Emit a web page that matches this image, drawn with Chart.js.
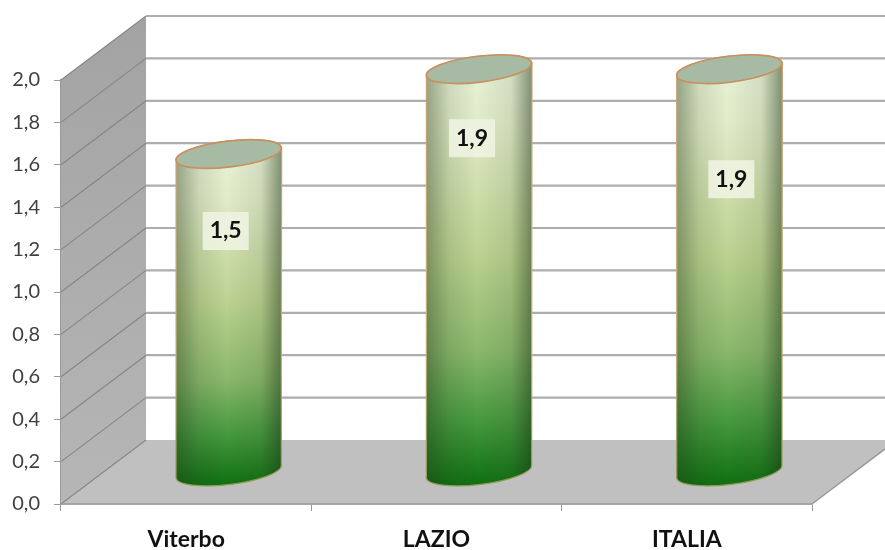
<!DOCTYPE html>
<html>
<head>
<style>
  body { margin: 0; background: #fff; }
</style>
</head>
<body>
<script src="https://cdn.jsdelivr.net/npm/chart.js@4/dist/chart.umd.min.js"></script>
<canvas id="myChart" width="885" height="550"></canvas>
<script>
    var categories = ['Viterbo', 'LAZIO', 'ITALIA'];
    var values = [1.5, 1.9, 1.9];

    // box depth, back wall sits this far up and to the right
    var depthX = 85, depthY = 64;
    var barWidth = 106;
    var radiusY = 13, tilt = -0.12;
    // where each value tag sits relative to the top of its cylinder
    var tagShift = [[-3, 77], [-7, 69], [2, 110]];

    function fmt(v) {
        return Number(v).toFixed(1).replace('.', ',');
    }

    function line(ctx, x1, y1, x2, y2) {
        ctx.beginPath();
        ctx.moveTo(x1, y1);
        ctx.lineTo(x2, y2);
        ctx.stroke();
    }

    // walls, floor and gridlines of the fake 3d box
    var boxPlugin = {
        id: 'box',
        beforeDatasetsDraw: function (chart) {
            var ctx = chart.ctx, a = chart.chartArea, y = chart.scales.y;
            ctx.save();
            var wall = ctx.createLinearGradient(0, a.top - depthY, 0, a.bottom);
            wall.addColorStop(0, '#a3a3a3');
            wall.addColorStop(1, '#b6b6b6');
            ctx.fillStyle = wall;
            ctx.beginPath();
            ctx.moveTo(a.left, a.top);
            ctx.lineTo(a.left + depthX, a.top - depthY);
            ctx.lineTo(a.left + depthX, a.bottom - depthY);
            ctx.lineTo(a.left, a.bottom);
            ctx.closePath();
            ctx.fill();

            ctx.fillStyle = '#c0c0c0';
            ctx.beginPath();
            ctx.moveTo(a.left, a.bottom);
            ctx.lineTo(a.left + depthX, a.bottom - depthY);
            ctx.lineTo(a.right + depthX, a.bottom - depthY);
            ctx.lineTo(a.right, a.bottom);
            ctx.closePath();
            ctx.fill();

            y.ticks.forEach(function (t) {
                var py = y.getPixelForValue(t.value);
                ctx.strokeStyle = '#858585';
                ctx.lineWidth = 1.1;
                line(ctx, a.left, py, a.left + depthX, py - depthY);
                if (t.value > 0) {
                    ctx.strokeStyle = '#adadad';
                    ctx.lineWidth = 2.2;
                    line(ctx, a.left + depthX, py - depthY, a.right + depthX, py - depthY);
                }
            });

            ctx.strokeStyle = '#9a9a9a';
            ctx.lineWidth = 1.5;
            line(ctx, a.left, a.bottom, a.right, a.bottom);
            line(ctx, a.right, a.bottom, a.right + depthX, a.bottom - depthY);
            ctx.restore();
        },
        afterDatasetsDraw: function (chart) {
            var ctx = chart.ctx;
            chart.getDatasetMeta(0).data.forEach(function (bar, i) {
                // cylinders stand halfway into the box
                var cx = bar.x + depthX / 2;
                var top = bar.y - depthY / 2;
                var base = bar.base - depthY / 2;
                drawCylinder(ctx, cx, top, base);
                drawTag(ctx, fmt(values[i]), cx + tagShift[i][0], top + tagShift[i][1]);
            });
        }
    };

    function drawCylinder(ctx, cx, top, base) {
        var rx = barWidth / 2;
        var sin = Math.sin(tilt) * rx;
        ctx.save();

        function body() {
            ctx.beginPath();
            ctx.ellipse(cx, base, rx, radiusY, tilt, Math.PI, 0, true);
            ctx.lineTo(cx + rx, top + sin);
            ctx.ellipse(cx, top, rx, radiusY, tilt, 0, Math.PI, true);
            ctx.closePath();
        }

        var green = ctx.createLinearGradient(0, top, 0, base + radiusY);
        green.addColorStop(0, '#e8f2d6');
        green.addColorStop(0.14, '#e0ebc8');
        green.addColorStop(0.45, '#bcd290');
        green.addColorStop(0.68, '#8ab86c');
        green.addColorStop(0.85, '#45983e');
        green.addColorStop(1, '#0f7012');
        body();
        ctx.fillStyle = green;
        ctx.fill();

        var shade = ctx.createLinearGradient(cx - rx, 0, cx + rx, 0);
        shade.addColorStop(0, 'rgba(35,55,25,0.42)');
        shade.addColorStop(0.22, 'rgba(35,55,25,0.12)');
        shade.addColorStop(0.48, 'rgba(35,55,25,0)');
        shade.addColorStop(0.8, 'rgba(35,55,25,0.1)');
        shade.addColorStop(1, 'rgba(25,45,20,0.5)');
        body();
        ctx.fillStyle = shade;
        ctx.fill();

        // outline is copper at the top and fades out towards the dark base
        var edge = ctx.createLinearGradient(0, top, 0, base + radiusY);
        edge.addColorStop(0, '#cfa070');
        edge.addColorStop(0.6, '#c8b080');
        edge.addColorStop(1, '#8a9a50');
        body();
        ctx.strokeStyle = edge;
        ctx.lineWidth = 1.2;
        ctx.stroke();

        ctx.beginPath();
        ctx.ellipse(cx, top, rx, radiusY, tilt, 0, Math.PI * 2);
        ctx.fillStyle = '#a7baa4';
        ctx.fill();
        ctx.strokeStyle = '#c8905c';
        ctx.lineWidth = 1.6;
        ctx.stroke();
        ctx.restore();
    }

    function drawTag(ctx, text, x, y) {
        ctx.save();
        ctx.fillStyle = 'rgba(238,243,225,0.9)';
        ctx.fillRect(x - 23, y - 19, 46, 38);
        ctx.fillStyle = '#111';
        ctx.font = 'bold 23px Lato';
        ctx.textAlign = 'center';
        ctx.textBaseline = 'middle';
        ctx.fillText(text, x, y);
        ctx.restore();
    }

    var ctx = document.getElementById('myChart').getContext('2d');
    var myChart = new Chart(ctx, {
        type: 'bar',
        data: {
            labels: categories,
            datasets: [{
                data: values,
                backgroundColor: 'transparent',
                barThickness: barWidth
            }]
        },
        plugins: [boxPlugin],
        options: {
            responsive: false,
            animation: false,
            layout: { padding: { top: 80, right: 73, left: 0, bottom: 0 } },
            plugins: { legend: { display: false }, tooltip: { enabled: false } },
            scales: {
                x: {
                    afterFit: function (s) { s.height = 46; },
                    border: { color: '#9a9a9a', width: 1.5 },
                    grid: { drawOnChartArea: false, color: '#9a9a9a', tickLength: 7, offset: true },
                    ticks: { color: '#111', padding: 15, font: { family: 'Lato', size: 23, weight: 'bold' } }
                },
                y: {
                    min: 0,
                    max: 2,
                    afterFit: function (s) { s.width = 61; },
                    border: { color: '#9a9a9a', width: 1.5 },
                    grid: { drawOnChartArea: false, color: '#9a9a9a', tickLength: 7 },
                    ticks: {
                        stepSize: 0.2,
                        color: '#404040',
                        padding: 14,
                        font: { family: 'Lato', size: 20 },
                        callback: function (v) { return fmt(v); }
                    }
                }
            }
        }
    });
</script>
</body>
</html>
